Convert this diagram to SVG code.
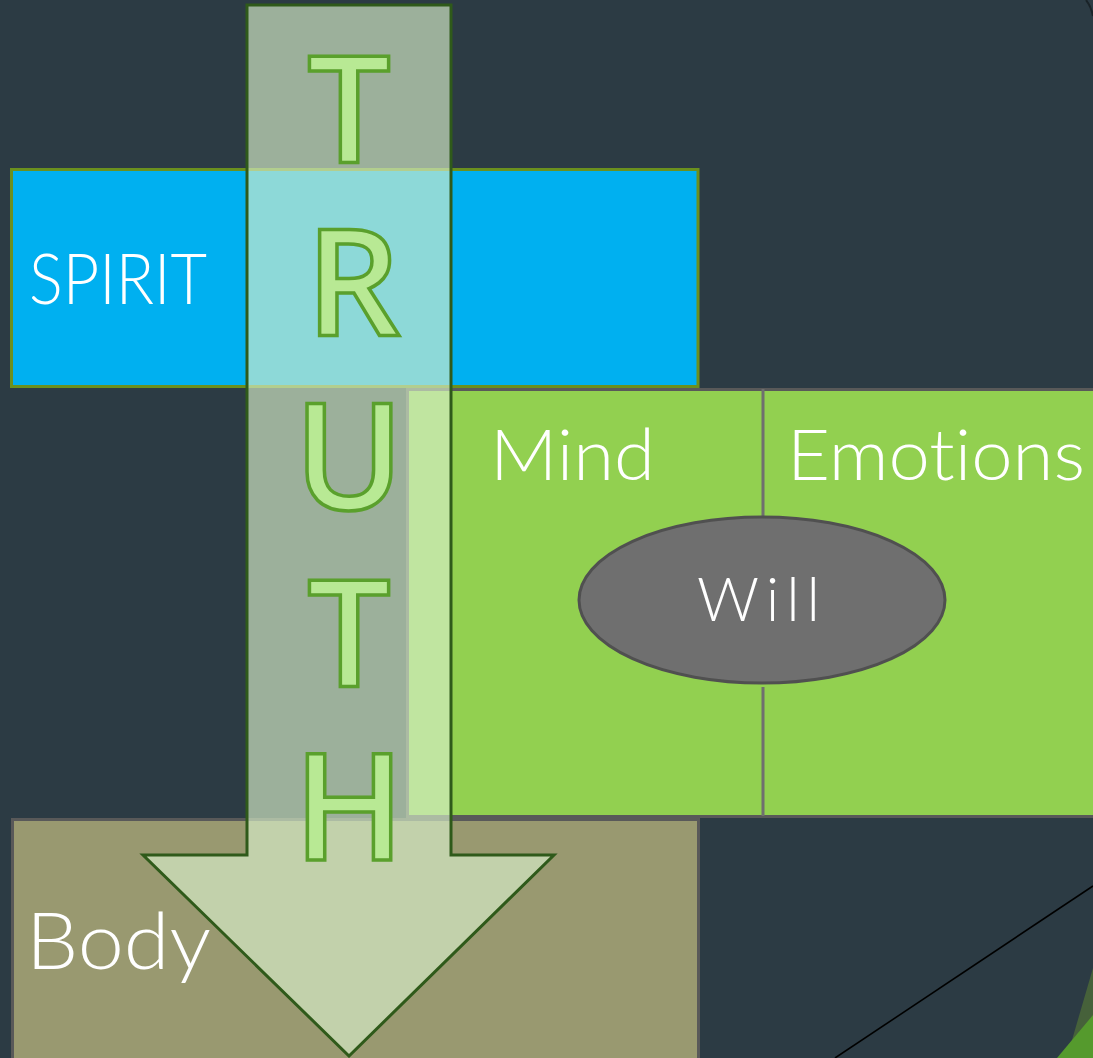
<svg xmlns="http://www.w3.org/2000/svg" width="1093" height="1058" viewBox="0 0 1093 1058">
<style>
.lbl{font-family:Lato,"Liberation Sans",sans-serif;font-weight:300;fill:#FFFFFF;font-variant-ligatures:none;font-feature-settings:"liga" 0}
.ltr{font-family:"Open Sans",Lato,"Liberation Sans",sans-serif;font-weight:600;font-size:148px;fill:#B8E994;stroke:#5AA02C;stroke-width:3.5;text-anchor:middle}
</style>
<rect x="0" y="0" width="1093" height="1058" fill="#2C3B44"/>
<g id="decor">
<path d="M1086,0 Q1091,6 1093,16" fill="none" stroke="#1a2328" stroke-width="2"/>
<polygon points="1093,968 1072,1040 1060,1058 1093,1058" fill="#46613A"/>
<polygon points="1093,1015 1057,1058 1093,1058" fill="#559A2D"/>
<line x1="835" y1="1058" x2="1093" y2="886" stroke="#000000" stroke-width="1.6"/>
</g>
<g id="spirit">
<rect x="11.5" y="169.5" width="686.5" height="217" fill="#00B0F0" stroke="#6B901E" stroke-width="3"/>
<text class="lbl" x="29" y="304" font-size="71" textLength="178" lengthAdjust="spacingAndGlyphs">SPIRIT</text>
</g>
<g id="soul">
<rect x="407.5" y="389.5" width="690" height="427" fill="#92D050" stroke="#595959" stroke-width="3"/>
<line x1="763" y1="389" x2="763" y2="517" stroke="#6F6F6F" stroke-width="3"/>
<line x1="763" y1="687" x2="763" y2="816" stroke="#6F6F6F" stroke-width="3"/>
<text class="lbl" x="490" y="480" font-size="70" textLength="165" lengthAdjust="spacingAndGlyphs">Mind</text>
<text class="lbl" x="787" y="480" font-size="70" textLength="298" lengthAdjust="spacingAndGlyphs">Emotions</text>
</g>
<g id="will">
<ellipse cx="762" cy="600" rx="183" ry="83" fill="#6F6F6F" stroke="#505050" stroke-width="3"/>
<text class="lbl" x="697" y="621" font-size="61" textLength="123" lengthAdjust="spacing">Will</text>
</g>
<g id="body">
<rect x="12.5" y="819.5" width="686" height="245" fill="#999970" stroke="#595959" stroke-width="3"/>
</g>
<g id="connectors">
<path id="truth-arrow" d="M247,5 H451 V855 H554 L349,1056 L143,855 H247 Z" fill="#D9F0CB" fill-opacity="0.65" stroke="#2F5A1A" stroke-width="3" stroke-linejoin="miter"/>
</g>
<g id="truth">
<text class="ltr" x="349" y="162">T</text>
<text class="ltr" x="353" y="336">R</text>
<text class="ltr" x="349" y="510">U</text>
<text class="ltr" x="349" y="686">T</text>
<text class="ltr" x="349" y="860">H</text>
</g>
<g id="body-label">
<text class="lbl" x="26" y="969" font-size="79" textLength="185" lengthAdjust="spacingAndGlyphs">Body</text>
</g>
</svg>
